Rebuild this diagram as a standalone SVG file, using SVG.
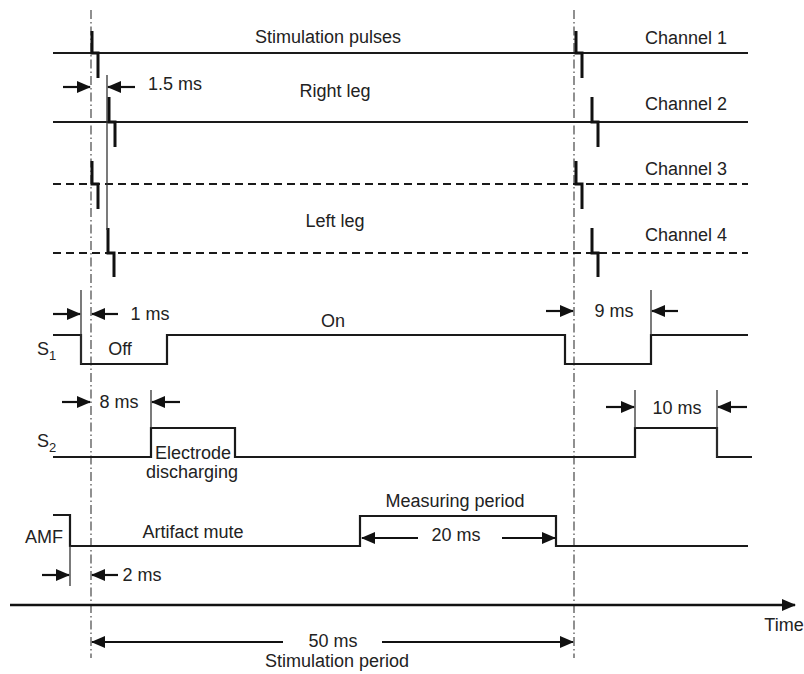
<svg xmlns="http://www.w3.org/2000/svg" width="804" height="674" viewBox="0 0 804 674">
<style>
text{font-family:"Liberation Sans",Arial,sans-serif;font-size:18px;fill:#222;}
.c{text-anchor:middle;}
.sig{fill:none;stroke:#1a1a1a;stroke-width:2.2;}
.dash{fill:none;stroke:#1a1a1a;stroke-width:2.2;stroke-dasharray:8 5;}
.pulse{fill:none;stroke:#111;stroke-width:3;}
.thin{fill:none;stroke:#333;stroke-width:1.3;}
.dd{fill:none;stroke:#555;stroke-width:1.3;stroke-dasharray:9 3 1.5 3;}
.arr{fill:none;stroke:#111;stroke-width:2.2;marker-end:url(#ah);}
</style>
<defs>
<marker id="ah" markerUnits="userSpaceOnUse" markerWidth="14" markerHeight="12" viewBox="0 0 14 12" refX="13" refY="6" orient="auto">
<path d="M0,0 L14,6 L0,12 Z" fill="#111"/>
</marker>
</defs>
<rect width="804" height="674" fill="#fff"/>
<g id="reference-lines">
<line class="dd" x1="91" y1="10" x2="91" y2="658"/>
<line class="dd" x1="574" y1="10" x2="574" y2="658"/>
</g>
<g id="channel1">
<line class="sig" x1="53" y1="53" x2="748" y2="53"/>
<path class="pulse" d="M92,31 V53 H98 V78"/>
<path class="pulse" d="M576,31 V53 H582 V78"/>
<text class="c" x="328" y="43">Stimulation pulses</text>
<text class="c" x="686" y="44">Channel 1</text>
</g>
<g id="channel2">
<line class="sig" x1="53" y1="122" x2="748" y2="122"/>
<path class="pulse" d="M109,97 V122 H115 V147"/>
<path class="pulse" d="M592,97 V122 H598 V147"/>
<text class="c" x="335" y="97">Right leg</text>
<text class="c" x="686" y="110">Channel 2</text>
</g>
<g id="channel3">
<line class="dash" x1="53" y1="184" x2="748" y2="184"/>
<path class="pulse" d="M92,161 V184 H98 V209"/>
<path class="pulse" d="M576,161 V184 H582 V209"/>
<text class="c" x="686" y="175">Channel 3</text>
</g>
<g id="channel4">
<line class="dash" x1="53" y1="253" x2="748" y2="253"/>
<path class="pulse" d="M108,228 V253 H114 V277"/>
<path class="pulse" d="M592,228 V253 H598 V277"/>
<text class="c" x="335" y="227">Left leg</text>
<text class="c" x="686" y="241">Channel 4</text>
</g>
<g id="s1">
<path class="sig" d="M53,335 H81 V364 H167 V335 H565 V364 H651 V335 H748"/>
<text x="37" y="355">S<tspan font-size="13" dy="5">1</tspan></text>
<text class="c" x="120" y="355">Off</text>
<text class="c" x="333" y="327">On</text>
</g>
<g id="s2">
<path class="sig" d="M53,457 H151 V428 H235 V457 H635 V428 H717 V457 H752"/>
<text x="37" y="447">S<tspan font-size="13" dy="5">2</tspan></text>
<text class="c" x="193" y="459">Electrode</text>
<text class="c" x="192" y="478">discharging</text>
</g>
<g id="amf">
<path class="sig" d="M53,515 H70 V546 H360 V516 H556 V546 H748"/>
<text class="c" x="44" y="543">AMF</text>
<text class="c" x="193" y="538">Artifact mute</text>
<text class="c" x="455" y="507">Measuring period</text>
</g>
<g id="time-axis">
<line x1="10" y1="605" x2="795" y2="605" stroke="#111" stroke-width="2.5" marker-end="url(#ah)"/>
<text class="c" x="784" y="631">Time</text>
</g>
<g id="connectors">
<line class="thin" x1="107" y1="75" x2="107" y2="230"/>
<line class="arr" x1="63" y1="87" x2="90" y2="87"/>
<line class="arr" x1="135" y1="87" x2="108" y2="87"/>
<text class="c" x="175" y="90">1.5 ms</text>
<line class="thin" x1="81" y1="290" x2="81" y2="364"/>
<line class="arr" x1="53" y1="314" x2="80" y2="314"/>
<line class="arr" x1="118" y1="314" x2="92" y2="314"/>
<text class="c" x="150" y="320">1 ms</text>
<line class="thin" x1="651" y1="290" x2="651" y2="335"/>
<line class="arr" x1="546" y1="311" x2="573" y2="311"/>
<line class="arr" x1="678" y1="311" x2="652" y2="311"/>
<text class="c" x="614" y="317">9 ms</text>
<line class="thin" x1="151" y1="390" x2="151" y2="428"/>
<line class="arr" x1="62" y1="402" x2="90" y2="402"/>
<line class="arr" x1="180" y1="402" x2="152" y2="402"/>
<text class="c" x="119" y="408">8 ms</text>
<line class="thin" x1="635" y1="390" x2="635" y2="428"/>
<line class="thin" x1="717" y1="390" x2="717" y2="457"/>
<line class="arr" x1="606" y1="407" x2="634" y2="407"/>
<line class="arr" x1="747" y1="407" x2="718" y2="407"/>
<text class="c" x="677" y="414">10 ms</text>
<line class="thin" x1="70" y1="546" x2="70" y2="586"/>
<line class="arr" x1="42" y1="575" x2="69" y2="575"/>
<line class="arr" x1="118" y1="575" x2="92" y2="575"/>
<text class="c" x="142" y="581">2 ms</text>
<line class="arr" x1="418" y1="538" x2="362" y2="538"/>
<line class="arr" x1="502" y1="538" x2="555" y2="538"/>
<text class="c" x="456" y="541">20 ms</text>
<line class="arr" x1="283" y1="642" x2="92" y2="642"/>
<line class="arr" x1="382" y1="642" x2="573" y2="642"/>
<text class="c" x="333" y="647">50 ms</text>
<text class="c" x="337" y="667">Stimulation period</text>
</g>
</svg>
